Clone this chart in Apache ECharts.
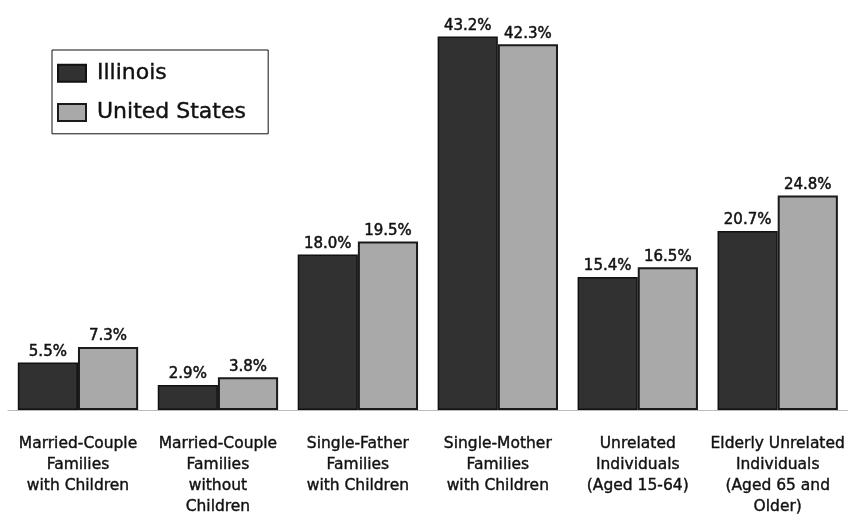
<!DOCTYPE html>
<html>
<head>
<meta charset="utf-8">
<script src="https://cdn.jsdelivr.net/npm/echarts@6/dist/echarts.min.js"></script>
<style>
  html, body { margin: 0; padding: 0; background: #fff; }
  #chart { width: 848px; height: 522px; }
</style>
</head>
<body>
<div id="chart"></div>
<script>
// Poverty rates by family type
const categories = [
  'Married-Couple\nFamilies\nwith Children',
  'Married-Couple\nFamilies\nwithout\nChildren',
  'Single-Father\nFamilies\nwith Children',
  'Single-Mother\nFamilies\nwith Children',
  'Unrelated\nIndividuals\n(Aged 15-64)',
  'Elderly Unrelated\nIndividuals\n(Aged 65 and\nOlder)'
];
const illinois = [5.5, 2.9, 18.0, 43.2, 15.4, 20.7];
const unitedStates = [7.3, 3.8, 19.5, 42.3, 16.5, 24.8];

const FONT = 'DejaVu Sans';
const INK = '#111';
const chart = echarts.init(document.getElementById('chart'));

// a thin outline in the text colour gives the type a slightly heavier weight
const valueLabel = {
  show: true,
  position: 'top',
  distance: 3,
  color: INK,
  fontFamily: FONT,
  fontSize: 15,
  textBorderColor: INK,
  textBorderWidth: 0.5,
  formatter: p => p.value.toFixed(1) + '%'
};

chart.setOption({
  animation: false,
  backgroundColor: '#fff',
  grid: { left: 8, right: 0, top: 21, bottom: 112 },
  legend: {
    orient: 'vertical',
    left: 52,
    top: 50,
    icon: 'rect',
    itemWidth: 28,
    itemHeight: 17,
    itemGap: 17,
    padding: [12, 22, 10, 5],
    borderColor: INK,
    borderWidth: 1,
    textStyle: {
      fontFamily: FONT, fontSize: 22, color: INK,
      textBorderColor: INK, textBorderWidth: 0.4,
      padding: [0, 0, 0, 6]
    },
    data: ['Illinois', 'United States']
  },
  xAxis: {
    type: 'category',
    data: categories,
    axisLine: { lineStyle: { color: '#bbb', width: 1 } },
    axisTick: { alignWithLabel: true, length: 6, lineStyle: { color: '#bbb' } },
    axisLabel: {
      interval: 0,
      margin: 23,
      color: INK,
      fontFamily: FONT,
      fontSize: 15.5,
      lineHeight: 21,
      textBorderColor: INK,
      textBorderWidth: 0.4
    }
  },
  yAxis: {
    type: 'value',
    min: 0,
    max: 45,
    show: false,
    splitLine: { show: false }
  },
  series: [
    {
      name: 'Illinois',
      type: 'bar',
      data: illinois,
      barGap: '0%',
      barCategoryGap: '14%',
      itemStyle: { color: '#313131', borderColor: '#111', borderWidth: 1.5 },
      label: valueLabel
    },
    {
      name: 'United States',
      type: 'bar',
      data: unitedStates,
      itemStyle: { color: '#a9a9a9', borderColor: '#1a1a1a', borderWidth: 2 },
      label: valueLabel
    }
  ]
});
</script>
</body>
</html>
